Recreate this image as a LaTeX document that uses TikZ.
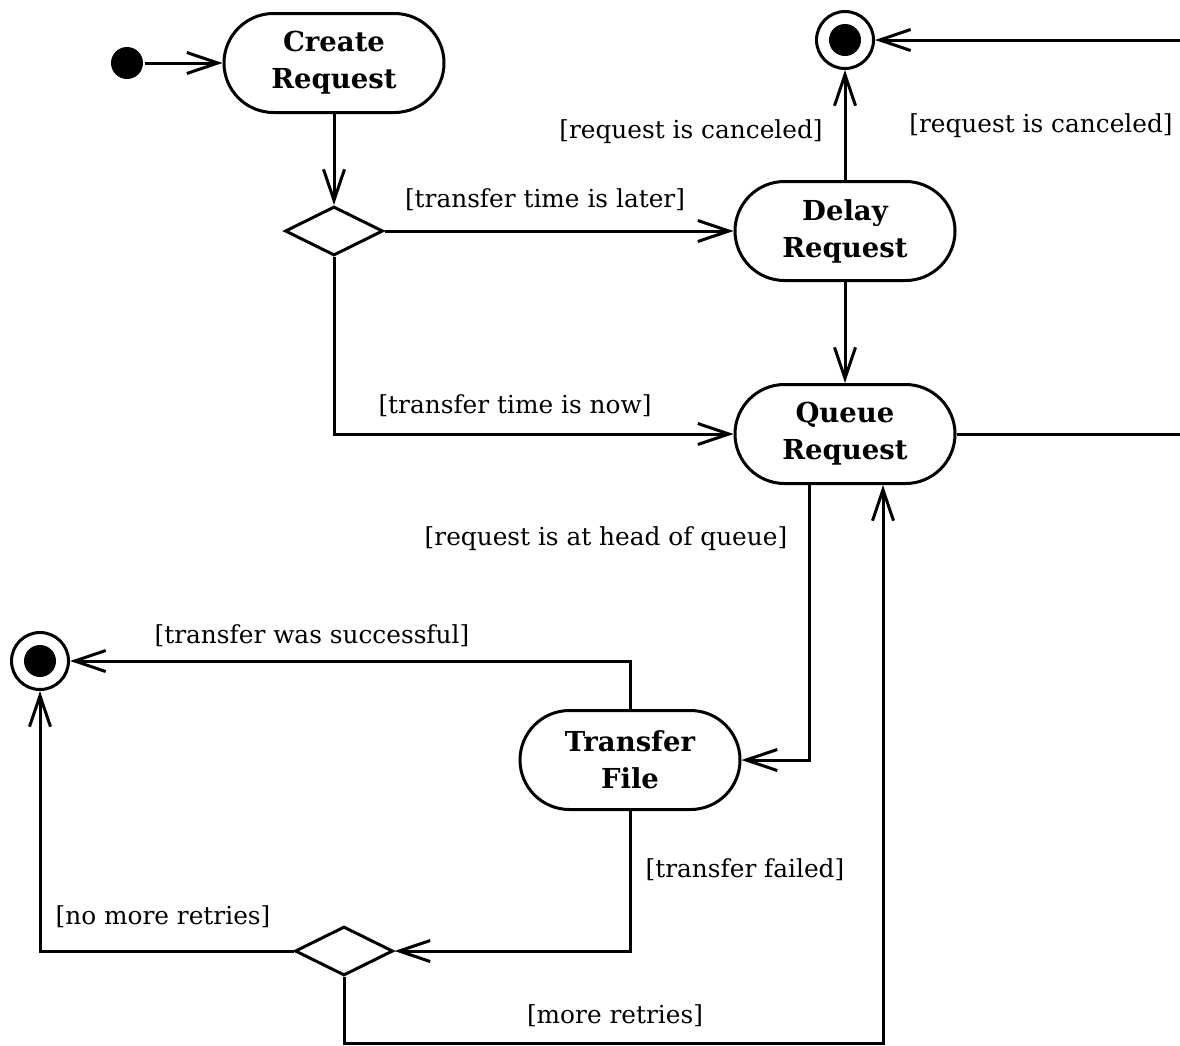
\documentclass[tikz,border=0pt]{standalone}
\usepackage{fontspec}
\setmainfont{DejaVu Serif}
\usetikzlibrary{arrows.meta,shapes.misc,shapes.geometric}
\begin{document}
\begin{tikzpicture}[x=1pt,y=-1pt,
  line width=3pt,
  act/.style={draw,rounded rectangle,minimum width=220pt,minimum height=99pt,inner sep=0pt,
     align=center,font=\fontsize{27.5}{37}\selectfont\bfseries},
  decis/.style={draw,diamond,minimum width=98pt,minimum height=49pt,inner sep=0pt},
  finalst/.style={draw,circle,minimum size=57pt,inner sep=0pt},
  initst/.style={fill,circle,minimum size=32pt,inner sep=0pt},
  guard/.style={font=\fontsize{24.8}{29}\selectfont,inner sep=0pt},
  arr/.style={-{Straight Barb[length=31pt,width=21pt,line width=3pt]}}]
\useasboundingbox (0,0) rectangle (1180,1045);
% nodes
\node[initst] (init) at (127,63) {};
\node[act] (create) at (334,63) {Create\\Request};
\node[decis] (d1) at (334,231) {};
\node[act] (delay) at (845,231) {Delay\\Request};
\node[finalst] (f1) at (845,40) {};
\fill (f1.center) circle (16);
\node[act] (queue) at (845,434) {Queue\\Request};
\node[act] (transfer) at (630,760) {Transfer\\File};
\node[finalst] (f2) at (40,661) {};
\fill (f2.center) circle (16);
\node[decis] (d2) at (344,951) {};
\coordinate (qa) at (809,0);
\coordinate (qb) at (883,0);
% connectors
\draw[arr] (init) -- (create.west);
\draw[arr] (create.south) -- (d1.north);
\draw[arr] (d1.east) -- (delay.west);
\draw[arr] (delay.north) -- (f1.south);
\draw[arr] (delay.south) -- (queue.north);
\draw[arr] (d1.south) |- (queue.west);
\draw[arr] (queue.east) -- (1200,434) -- (1200,40) -- (f1.east);
\draw[arr] (queue.south -| qa) |- (transfer.east);
\draw[arr] (transfer.north) |- (f2.east);
\draw[arr] (transfer.south) |- (d2.east);
\draw[arr] (d2.west) -| (f2.south);
\draw[arr] (d2.south) -- ++(0,66) -| (queue.south -| qb);
% guards
\node[guard] at (545,200) {[transfer time is later]};
\node[guard] at (691,132) {[request is canceled]};
\node[guard] at (1041,126) {[request is canceled]};
\node[guard] at (515,406) {[transfer time is now]};
\node[guard] at (606,539) {[request is at head of queue]};
\node[guard] at (312,636) {[transfer was successful]};
\node[guard] at (745,870) {[transfer failed]};
\node[guard] at (163,917) {[no more retries]};
\node[guard] at (615,1016) {[more retries]};
\end{tikzpicture}
\end{document}
